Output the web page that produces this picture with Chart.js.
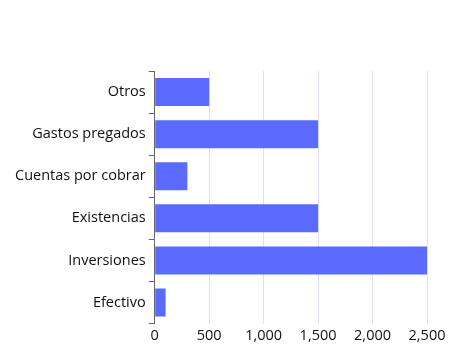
<!DOCTYPE html>
<html><head><meta charset="utf-8">
<script src="https://cdn.jsdelivr.net/npm/chart.js@4"></script>
<style>html,body{margin:0;padding:0;background:#fff}#wrap{width:474px;height:355px}</style>
</head><body><div id="wrap"><canvas id="c"></canvas></div>
<script>
const categories = ["Otros", "Gastos pregados", "Cuentas por cobrar", "Existencias", "Inversiones", "Efectivo"];
const values = [500, 1500, 300, 1500, 2500, 100];
const xTicks = [0, 500, 1000, 1500, 2000, 2500];

new Chart(document.getElementById('c'), {
  type: 'bar',
  data: { labels: categories, datasets: [{ data: values, backgroundColor: '#5b6bff', barPercentage: 0.83, categoryPercentage: 0.8 }] },
  options: {
    indexAxis: 'y', responsive: true, maintainAspectRatio: false, animation: false,
    layout: { padding: { top: 71, right: 47, left: 12, bottom: 6 } },
    plugins: { legend: { display: false }, tooltip: { enabled: false } },
    scales: {
      x: {
        min: 0, max: 2500,
        afterBuildTicks: s => { s.ticks = xTicks.map(v => ({ value: v })); },
        ticks: { color: '#111', font: { family: 'Open Sans', size: 14.5 }, padding: 4, callback: v => v.toLocaleString('en-US') },
        grid: { color: '#dfe1ef', drawTicks: false },
        border: { display: false }
      },
      y: {
        ticks: { color: '#111', font: { family: 'Open Sans', size: 14.5 }, padding: 3 },
        grid: { offset: true, drawOnChartArea: false, tickLength: 6, color: '#666' },
        border: { color: '#666' }
      }
    }
  }
});
</script></body></html>
